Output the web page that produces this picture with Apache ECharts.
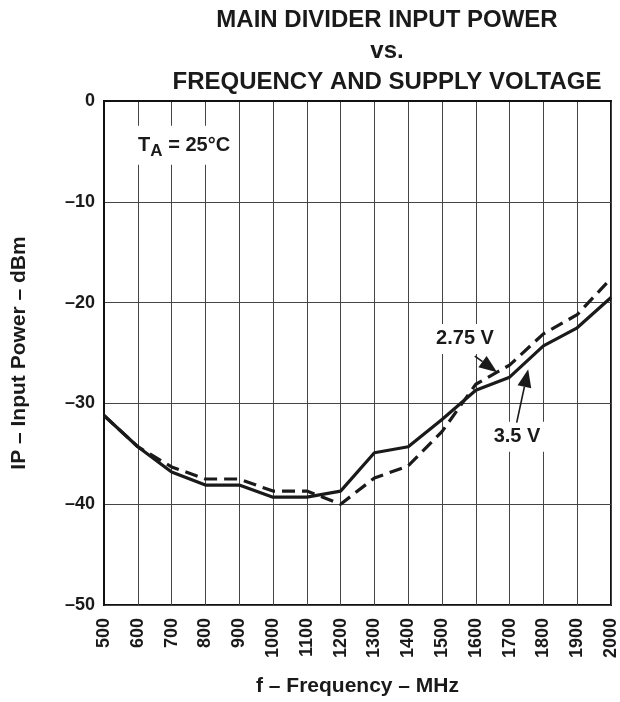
<!DOCTYPE html>
<html>
<head>
<meta charset="utf-8">
<script src="https://cdn.jsdelivr.net/npm/echarts@6/dist/echarts.min.js"></script>
<style>
    html, body { margin: 0; padding: 0; background: #fff; }
    #chart { width: 620px; height: 702px; }
</style>
</head>
<body>
<div id="chart"></div>
<script>
    // frequency points, MHz
    let freq = [500, 600, 700, 800, 900, 1000, 1100, 1200, 1300, 1400, 1500, 1600, 1700, 1800, 1900, 2000]
    // input power, dBm
    let power_350 = [-31.2, -34.3, -36.8, -38.1, -38.1, -39.3, -39.3, -38.7, -34.9, -34.3, -31.6, -28.7, -27.4, -24.3, -22.5, -19.5]
    let power_275 = [-31.2, -34.3, -36.3, -37.5, -37.5, -38.7, -38.7, -40.0, -37.4, -36.2, -32.8, -28.1, -26.2, -23.1, -21.2, -17.6]

    let font = 'Liberation Sans, Arial, Helvetica, sans-serif'

    // annotation anchors in data space
    let label_275 = [1568, -23.6]
    let arrow_275 = [[1597, -25.3], [1663, -26.9]]
    let label_35 = [1722, -33.3]
    let arrow_35 = [[1721, -31.9], [1755, -26.6]]
    let label_ta = [737, -4.4]

    let option = {
        animation: false,
        backgroundColor: '#fff',
        title: {
            text: 'MAIN DIVIDER INPUT POWER\nvs.\nFREQUENCY AND SUPPLY VOLTAGE',
            left: 382,
            top: 0,
            textAlign: 'center',
            textStyle: {
                fontFamily: font,
                fontWeight: 'bold',
                fontSize: 24,
                lineHeight: 31,
                color: '#1a1a1a'
            }
        },
        grid: {
            left: 104,
            right: 9,
            top: 101,
            bottom: 97,
            show: true,
            borderColor: '#111',
            borderWidth: 2
        },
        xAxis: {
            type: 'value',
            min: 500,
            max: 2000,
            interval: 100,
            name: 'f – Frequency – MHz',
            nameLocation: 'middle',
            nameGap: 71,
            nameTextStyle: {fontFamily: font, fontWeight: 'bold', fontSize: 21, color: '#1a1a1a'},
            axisLine: {show: true, lineStyle: {color: '#111', width: 2}},
            axisTick: {show: false},
            axisLabel: {
                rotate: 90,
                margin: 13,
                fontFamily: font,
                fontWeight: 'bold',
                fontSize: 18,
                color: '#1a1a1a',
                formatter: function (v) {
                    return String(v)
                }
            },
            splitLine: {show: true, lineStyle: {color: '#444', width: 1}}
        },
        yAxis: {
            type: 'value',
            min: -50,
            max: 0,
            interval: 10,
            name: 'IP – Input Power – dBm',
            nameLocation: 'middle',
            nameGap: 74,
            nameTextStyle: {fontFamily: font, fontWeight: 'bold', fontSize: 21, color: '#1a1a1a'},
            axisLine: {show: true, lineStyle: {color: '#111', width: 2}},
            axisTick: {show: false},
            axisLabel: {
                margin: 9,
                fontFamily: font,
                fontWeight: 'bold',
                fontSize: 18,
                color: '#1a1a1a',
                formatter: function (v) {
                    return String(v).replace('-', '–')
                }
            },
            splitLine: {show: true, lineStyle: {color: '#444', width: 1}}
        },
        series: [
            {
                name: '3.5 V',
                type: 'line',
                showSymbol: false,
                data: freq.map((f, i) => [f, power_350[i]]),
                lineStyle: {color: '#1a1a1a', width: 3.2},
                z: 3
            },
            {
                name: '2.75 V',
                type: 'line',
                showSymbol: false,
                data: freq.map((f, i) => [f, power_275[i]]),
                lineStyle: {color: '#1a1a1a', width: 3.2, type: [13, 7]},
                z: 3
            }
        ]
    }

    let myChart = echarts.init(document.getElementById('chart'))
    myChart.setOption(option)

    function px(p) {
        return myChart.convertToPixel({gridIndex: 0}, p)
    }

    function textBox(p, rich, text) {
        let c = px(p)
        return {
            type: 'text',
            x: c[0],
            y: c[1],
            z: 10,
            style: {
                text: text,
                rich: rich,
                fontFamily: font,
                fontWeight: 'bold',
                fontSize: 20,
                fill: '#1a1a1a',
                align: 'center',
                verticalAlign: 'middle',
                backgroundColor: '#fff',
                padding: [5, 5]
            }
        }
    }

    function arrow(pair) {
        let a = px(pair[0])
        let b = px(pair[1])
        let dx = b[0] - a[0], dy = b[1] - a[1]
        let len = Math.sqrt(dx * dx + dy * dy)
        let ux = dx / len, uy = dy / len
        let hl = 18, hw = 7
        let base = [b[0] - ux * hl, b[1] - uy * hl]
        return [
            {
                type: 'line',
                z: 11,
                shape: {x1: a[0], y1: a[1], x2: base[0], y2: base[1]},
                style: {stroke: '#1a1a1a', lineWidth: 1.6}
            },
            {
                type: 'polygon',
                z: 11,
                shape: {points: [b, [base[0] - uy * hw, base[1] + ux * hw], [base[0] + uy * hw, base[1] - ux * hw]]},
                style: {fill: '#1a1a1a'}
            }
        ]
    }

    let taRich = {
        t: {fontFamily: font, fontWeight: 'bold', fontSize: 20, color: '#1a1a1a'},
        s: {fontFamily: font, fontWeight: 'bold', fontSize: 17, color: '#1a1a1a', padding: [12, 0, 0, 0]}
    }

    myChart.setOption({
        graphic: [
            textBox(label_ta, taRich, '{t|T}{s|A}{t| = 25°C}'),
            textBox(label_275, null, '2.75 V'),
            textBox(label_35, null, '3.5 V')
        ].concat(arrow(arrow_275), arrow(arrow_35))
    })
</script>
</body>
</html>
